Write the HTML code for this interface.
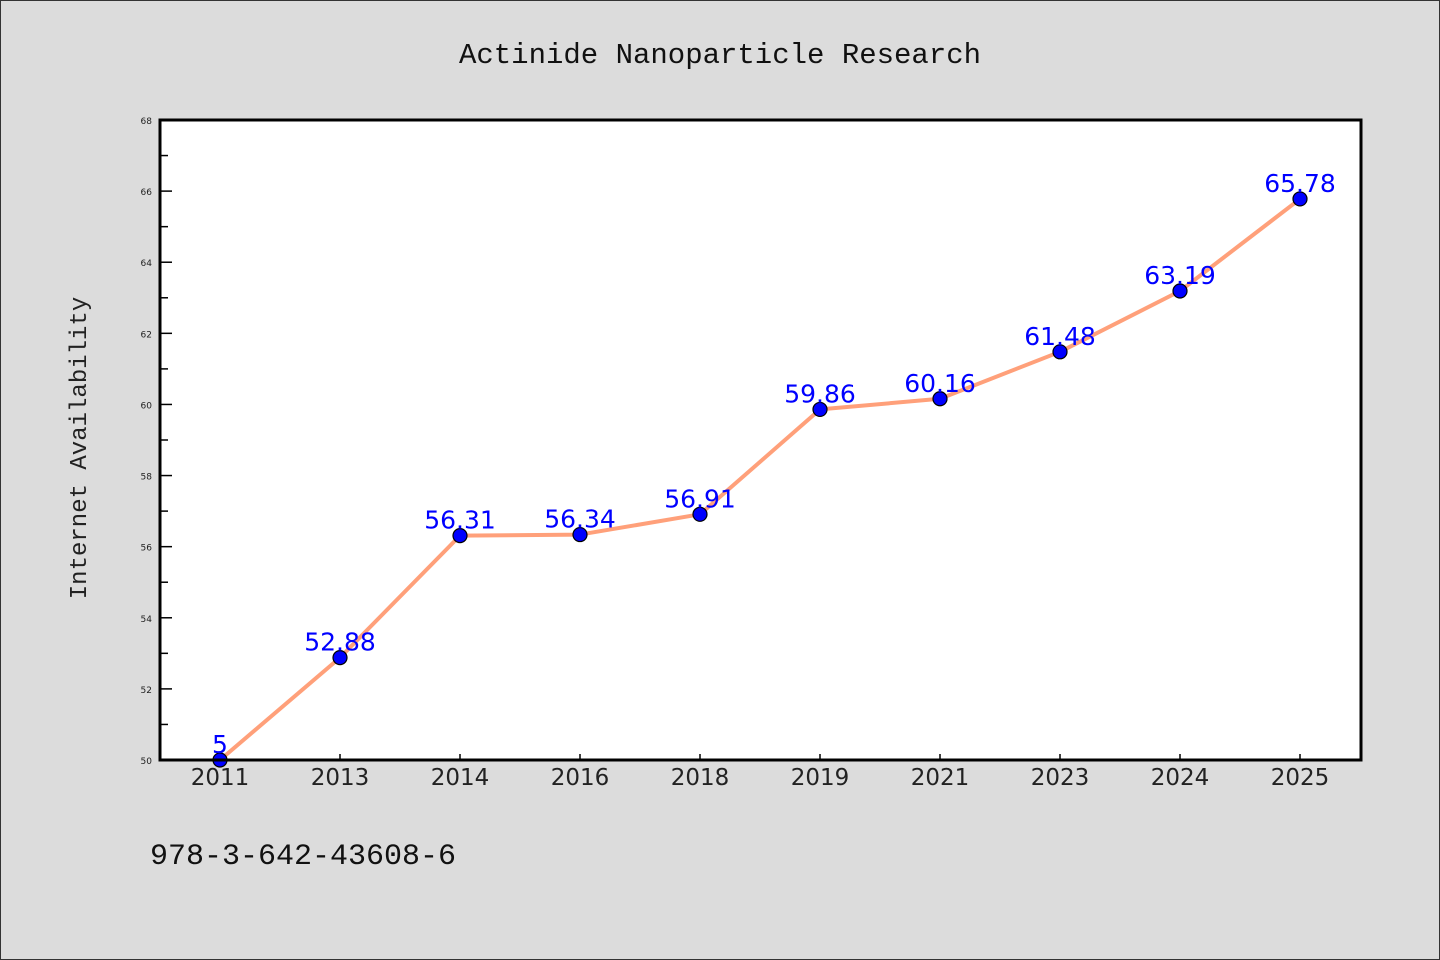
<!DOCTYPE html>
<html><head><meta charset="utf-8"><style>
html,body{margin:0;padding:0;background:#dcdcdc;}
svg{display:block;}
</style></head><body>
<svg id="chart" width="1440" height="960" xmlns="http://www.w3.org/2000/svg">
<rect x="0.5" y="0.5" width="1439" height="959" fill="#dcdcdc" stroke="#333"/>
<text x="720" y="63" text-anchor="middle" font-family="Liberation Mono, monospace" font-size="29" fill="#111">Actinide Nanoparticle Research</text>
<rect x="160" y="120" width="1201" height="640" fill="#fff"/>
<g id="yticks"></g><g id="xticks"></g>
<text transform="translate(86,448) rotate(-90)" text-anchor="middle" font-family="Liberation Mono, monospace" font-size="24" fill="#222">Internet Availability</text>
<g id="series"></g>
<rect x="160" y="120" width="1201" height="640" fill="none" stroke="#000" stroke-width="3"/>
<text x="150" y="864" font-family="Liberation Mono, monospace" font-size="30" fill="#111">978-3-642-43608-6</text>
</svg>
<script>
const categories=["2011","2013","2014","2016","2018","2019","2021","2023","2024","2025"];
const values=[50,52.88,56.31,56.34,56.91,59.86,60.16,61.48,63.19,65.78];
const valueLabels=["5","52.88","56.31","56.34","56.91","59.86","60.16","61.48","63.19","65.78"];
const yTickLabels=[50,52,54,56,58,60,62,64,66,68];
const NS="http://www.w3.org/2000/svg";
const x0=160,x1=1361,y0=120,y1=760,yMin=50,yMax=68;
const xs=i=>220+i*(1080/(categories.length-1));
const ys=v=>y1-(v-yMin)/(yMax-yMin)*(y1-y0);
function mk(t,a,p){const e=document.createElementNS(NS,t);for(const k in a)e.setAttribute(k,a[k]);p.appendChild(e);return e;}
const yt=document.getElementById('yticks');
for(let v=yMin;v<=yMax;v++){
  const major=(v%2===0);
  const l=mk('line',{x1:x0,x2:x0+(major?12:8),y1:ys(v),y2:ys(v),stroke:'#000','stroke-width':1.5},yt);
  
  
}
yTickLabels.forEach(v=>{
  const t=mk('text',{x:152,y:ys(v)+4,'text-anchor':'end','font-family':'DejaVu Sans, sans-serif','font-size':9,fill:'#222'},yt);
  t.textContent=v;
  
  
});
const xt=document.getElementById('xticks');
categories.forEach((c,i)=>{
  const l=mk('line',{x1:xs(i),x2:xs(i),y1:y1,y2:y1-6,stroke:'#000','stroke-width':1.5},xt);
  
  
  const t=mk('text',{x:xs(i),y:785,'text-anchor':'middle','font-family':'DejaVu Sans, sans-serif','font-size':23,fill:'#222'},xt);
  t.textContent=c;
  
  
});
const s=document.getElementById('series');
const pl=mk('polyline',{points:values.map((v,i)=>xs(i)+','+ys(v)).join(' '),fill:'none',stroke:'#ffa07a','stroke-width':4,'stroke-linejoin':'round'},s);


values.forEach((v,i)=>{
  const c=mk('circle',{cx:xs(i),cy:ys(v),r:7,fill:'#0000ff',stroke:'#000','stroke-width':1.2},s);
  
  
  const t=mk('text',{x:xs(i),y:ys(v)+(-7),'text-anchor':'middle','font-family':'DejaVu Sans, sans-serif','font-size':25,fill:'#0000ff'},s);
  t.textContent=valueLabels[i];
  
  
});
</script>
</body></html>
